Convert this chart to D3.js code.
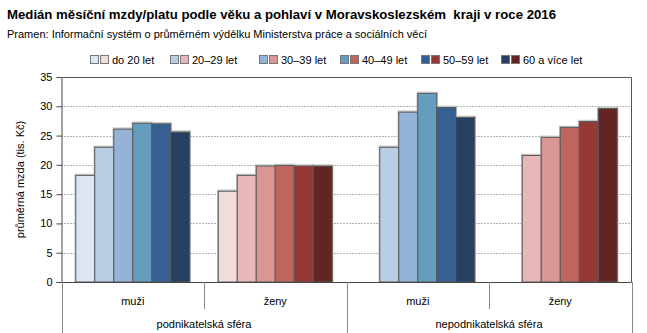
<!DOCTYPE html>
<html>
<head>
<meta charset="utf-8">
<script src="https://cdn.jsdelivr.net/npm/d3@7"></script>
<style>
  html, body { margin: 0; padding: 0; background: #fff; }
  svg { display: block; font-family: "Liberation Sans", Arial, sans-serif; }
</style>
</head>
<body>
<svg id="chart" width="647" height="333"></svg>
<script>
// ---- data ----
const titleText = "Medián měsíční mzdy/platu podle věku a pohlaví v Moravskoslezském  kraji v roce 2016";
const sourceText = "Pramen: Informační systém o průměrném výdělku Ministerstva práce a sociálních věcí";
const yLabel = "průměrná mzda (tis. Kč)";
const spheres = ["podnikatelská sféra", "nepodnikatelská sféra"];
const sexes = ["muži", "ženy"];
const ageGroups = ["do 20 let", "20–29 let", "30–39 let", "40–49 let", "50–59 let", "60 a více let"];
const podnikMuzi = [18.2, 23.0, 26.1, 27.1, 27.0, 25.6];
const podnikZeny = [15.5, 18.2, 19.8, 19.9, 19.8, 19.8];
const nepodnikMuzi = [null, 23.0, 29.0, 32.2, 29.8, 28.1];
const nepodnikZeny = [null, 21.6, 24.7, 26.4, 27.4, 29.6];
const yTicks = [0, 5, 10, 15, 20, 25, 30, 35];
const blueColors = ["#dce6f2", "#b9cde5", "#95b3d7", "#649dbd", "#376092", "#254061"];
const redColors = ["#f2dcdb", "#e6b9b8", "#d99694", "#c0645f", "#953735", "#632523"];

const groups = [
  { sphere: spheres[0], sex: sexes[0], values: podnikMuzi, colors: blueColors },
  { sphere: spheres[0], sex: sexes[1], values: podnikZeny, colors: redColors },
  { sphere: spheres[1], sex: sexes[0], values: nepodnikMuzi, colors: blueColors },
  { sphere: spheres[1], sex: sexes[1], values: nepodnikZeny, colors: redColors }
];
groups.forEach((g, i) => g.key = "g" + i);

// ---- layout ----
const svg = d3.select("#chart");
const pLeft = 61.5, pRight = 631.5, pTop = 77, pBottom = 282;

const x0 = d3.scaleBand().domain(groups.map(g => g.key)).range([pLeft, pRight]).padding(0);
const x1 = d3.scaleBand().domain(ageGroups).range([0, x0.bandwidth()]).paddingInner(0).paddingOuter(0.75);
const y = d3.scaleLinear().domain([0, 35]).range([pBottom, pTop]);

// title
svg.append("text").attr("x", 7).attr("y", 19)
  .style("font-size", "13.2px").style("font-weight", "bold").attr("fill", "#000")
  .attr("xml:space", "preserve").text(titleText);
svg.append("text").attr("x", 7).attr("y", 38)
  .style("font-size", "11px").attr("fill", "#000").text(sourceText);

// legend
const legendX = [112, 192, 281, 362, 443, 523];
const lg = svg.append("g");
ageGroups.forEach((a, i) => {
  const gx = legendX[i];
  lg.append("rect").attr("x", gx - 21.5).attr("y", 55.5).attr("width", 8).attr("height", 8)
    .attr("fill", blueColors[i]).attr("stroke", "#777");
  lg.append("rect").attr("x", gx - 11.5).attr("y", 55.5).attr("width", 8).attr("height", 8)
    .attr("fill", redColors[i]).attr("stroke", "#777");
  lg.append("text").attr("x", gx).attr("y", 64).style("font-size", "11px").attr("fill", "#000").text(a);
});

// gridlines
svg.append("g").selectAll("line").data(yTicks.filter(t => t > 0 && t < 35)).join("line")
  .attr("x1", pLeft).attr("x2", pRight)
  .attr("y1", d => Math.round(y(d)) + 0.5).attr("y2", d => Math.round(y(d)) + 0.5)
  .attr("stroke", "#666").attr("stroke-dasharray", "1,2");

// frame top and right
svg.append("path")
  .attr("d", `M${pLeft},${pTop + 0.5}H${pRight}V${pBottom}`)
  .attr("fill", "none").attr("stroke", "#555");

// bars
const gg = svg.append("g").selectAll("g").data(groups).join("g")
  .attr("transform", d => `translate(${x0(d.key)},0)`);
const barData = d => d.values.map((v, i) => ({ v, age: ageGroups[i], color: d.colors[i] })).filter(e => e.v != null);
gg.selectAll("rect.shadow").data(barData).join("rect").attr("class", "shadow")
  .attr("x", e => x1(e.age)).attr("y", e => y(e.v) - 0.5)
  .attr("width", x1.bandwidth()).attr("height", e => pBottom - y(e.v))
  .attr("fill", "none").attr("stroke", "#c8c8c8").attr("stroke-width", 2.5);
gg.selectAll("rect.bar").data(barData).join("rect").attr("class", "bar")
  .attr("x", e => x1(e.age)).attr("y", e => y(e.v))
  .attr("width", x1.bandwidth()).attr("height", e => pBottom - y(e.v))
  .attr("fill", e => e.color).attr("stroke", "#5a5a5a").attr("stroke-width", 1);

// y axis
const yAxis = d3.axisLeft(y).tickValues(yTicks).tickSize(5).tickPadding(4).tickSizeOuter(0);
const ya = svg.append("g").attr("transform", `translate(${pLeft},0)`).call(yAxis);
ya.select(".domain").attr("stroke", "#444");
ya.selectAll(".tick line").attr("stroke", "#444");
ya.selectAll(".tick text").style("font-size", "11px").style("font-family", "Liberation Sans, Arial, sans-serif").attr("fill", "#000");

// y label
svg.append("text").attr("transform", `translate(24,${(pTop + pBottom) / 2}) rotate(-90)`)
  .attr("text-anchor", "middle").style("font-size", "11px").attr("fill", "#000").text(yLabel);

// x axis line
svg.append("line").attr("x1", pLeft - 5).attr("x2", pRight).attr("y1", pBottom + 0.5).attr("y2", pBottom + 0.5)
  .attr("stroke", "#444");

// category separators
const bounds = [pLeft, ...groups.map(g => x0(g.key) + x0.bandwidth())];
svg.append("g").selectAll("line").data(bounds).join("line")
  .attr("x1", d => Math.round(d) + 0.5).attr("x2", d => Math.round(d) + 0.5)
  .attr("y1", pBottom).attr("y2", (d, i) => (i % 2 === 0 ? 333 : 309))
  .attr("stroke", "#888");

// sex labels
svg.append("g").selectAll("text").data(groups).join("text")
  .attr("x", d => x0(d.key) + x0.bandwidth() / 2).attr("y", 305)
  .attr("text-anchor", "middle").style("font-size", "11px").attr("fill", "#000").text(d => d.sex);

// sphere labels
svg.append("g").selectAll("text").data(spheres).join("text")
  .attr("x", (d, i) => (x0(groups[i * 2].key) + x0(groups[i * 2 + 1].key) + x0.bandwidth()) / 2).attr("y", 328)
  .attr("text-anchor", "middle").style("font-size", "11px").attr("fill", "#000").text(d => d);
</script>
</body>
</html>
